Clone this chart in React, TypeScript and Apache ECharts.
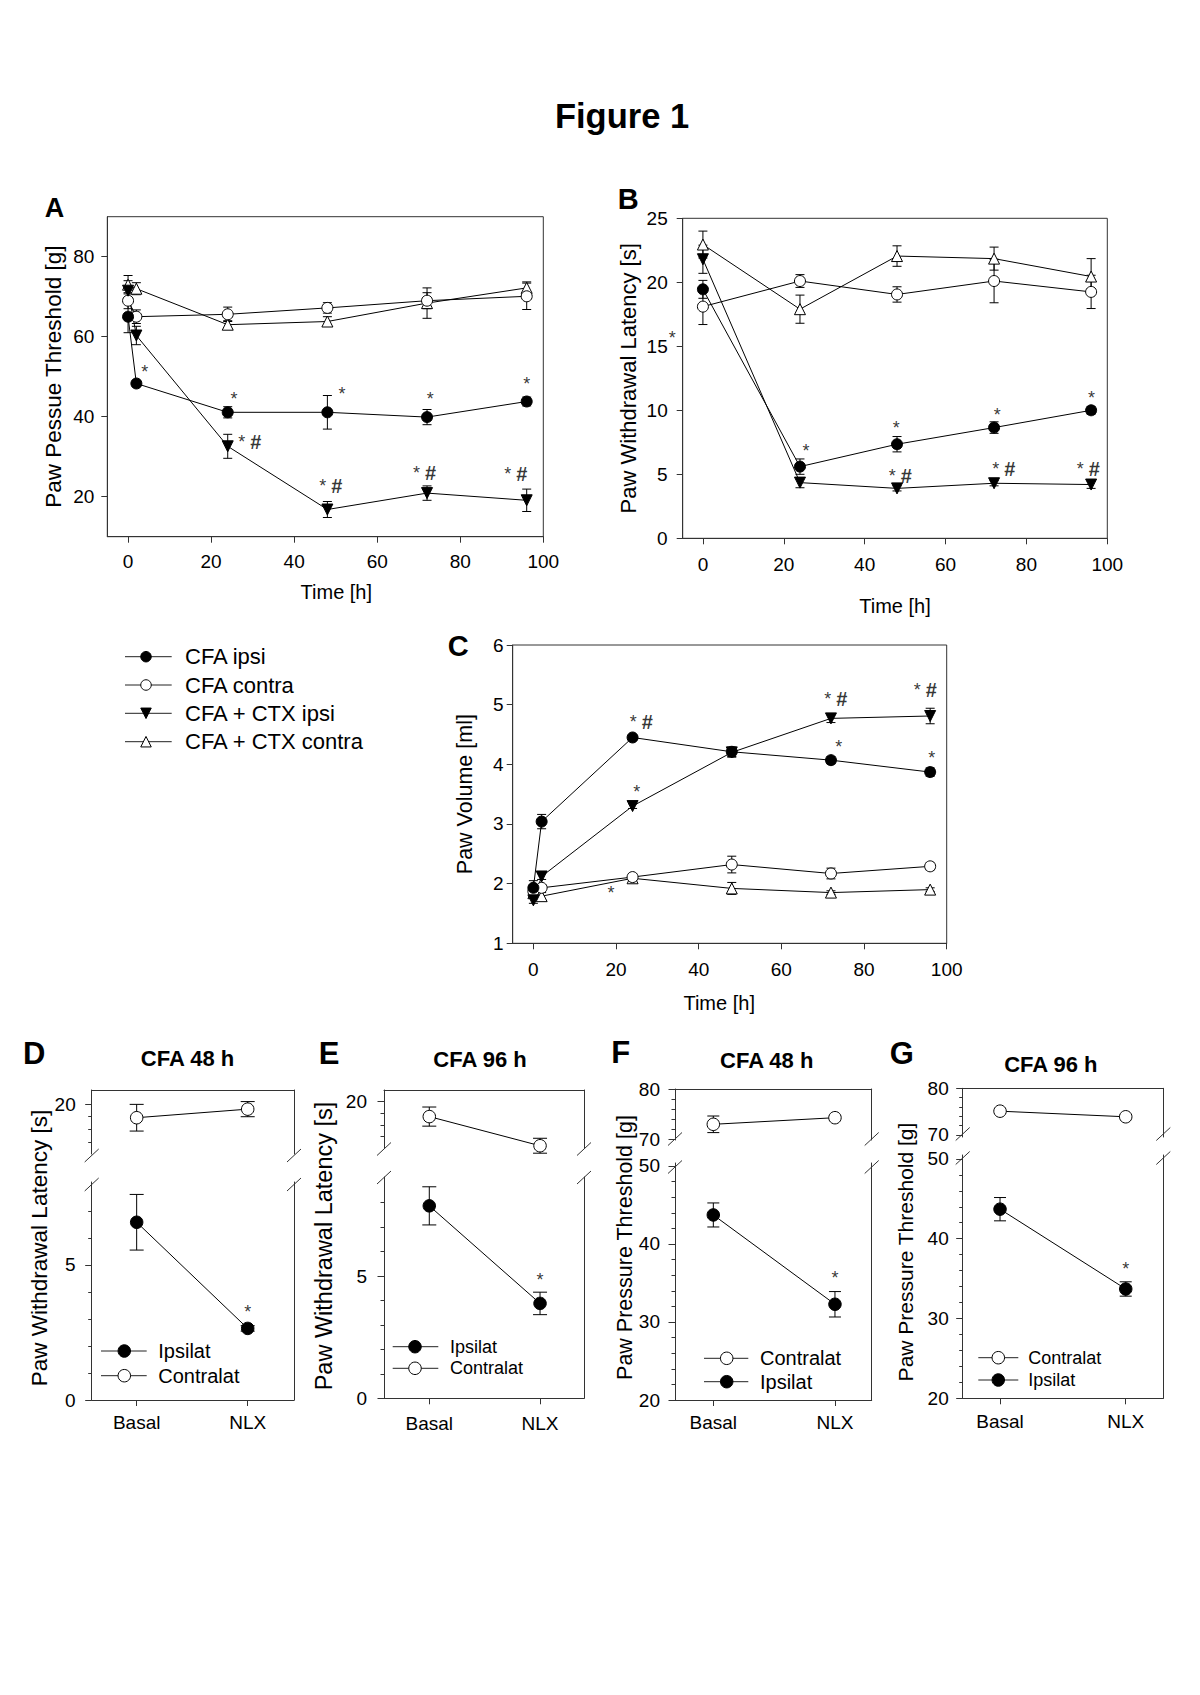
import React, { useEffect, useRef } from "react";
import * as echarts from "echarts";

const FONT = '"Liberation Sans", Arial, Helvetica, sans-serif';
const INK = "#000000";
const FRAME = "#333333";

// ---------- Panel A: paw pressure threshold [g] vs time ----------
const timeA = [0, 2, 24, 48, 72, 96];
const aCfaIpsi = [65.0, 48.3, 41.1, 41.1, 39.9, 43.8];
const aCfaIpsiErr = [4.0, 0.8, 1.4, 4.2, 1.9, 1.1];
const aCfaContra = [69.0, 65.0, 65.6, 67.2, 69.0, 70.1];
const aCfaContraErr = [2.0, 1.7, 1.8, 1.3, 2.0, 3.3];
const aCtxIpsi = [71.5, 60.3, 32.6, 16.8, 20.9, 19.1];
const aCtxIpsiErr = [2.5, 2.3, 3.0, 2.0, 1.8, 2.8];
const aCtxContra = [73.0, 72.0, 63.0, 63.8, 68.4, 72.2];
const aCtxContraErr = [2.3, 1.5, 1.0, 1.2, 3.8, 1.5];
const annotA: [number, number, string][] = [
  [4.0, 52.2, "*"], [25.5, 45.5, "*"], [51.5, 46.6, "*"], [72.8, 45.5, "*"], [96.0, 49.3, "*"],
  [29.3, 34.0, "*#"], [48.8, 23.0, "*#"], [71.4, 26.3, "*#"], [93.4, 25.9, "*#"],
];

// ---------- Panel B: paw withdrawal latency [s] vs time ----------
const timeB = [0, 24, 48, 72, 96];
const bCfaIpsi = [19.45, 5.6, 7.35, 8.65, 10.0];
const bCfaIpsiErr = [0.7, 0.6, 0.6, 0.45, 0.3];
const bCfaContra = [18.1, 20.1, 19.05, 20.1, 19.25];
const bCfaContraErr = [1.4, 0.5, 0.6, 1.7, 1.3];
const bCtxIpsi = [21.8, 4.35, 3.9, 4.3, 4.2];
const bCtxIpsiErr = [1.1, 0.4, 0.2, 0.2, 0.3];
const bCtxContra = [22.95, 17.9, 22.05, 21.85, 20.45];
const bCtxContraErr = [1.05, 1.1, 0.8, 0.9, 1.4];
const annotB: [number, number, string][] = [
  [-7.6, 16.0, "*"], [25.5, 7.16, "*"], [47.8, 8.91, "*"], [72.8, 9.95, "*"], [96.1, 11.25, "*"],
  [48.8, 4.95, "*#"], [74.4, 5.47, "*#"], [95.3, 5.47, "*#"],
];

// ---------- Panel C: paw volume [ml] vs time ----------
const timeC = [0, 2, 24, 48, 72, 96];
const cCfaIpsi = [1.93, 3.04, 4.45, 4.21, 4.07, 3.87];
const cCfaIpsiErr = [0.12, 0.12, 0.03, 0.08, 0.06, 0.07];
const cCfaContra = [1.87, 1.93, 2.11, 2.32, 2.17, 2.29];
const cCfaContraErr = [0.05, 0.05, 0.06, 0.14, 0.09, 0.06];
const cCtxIpsi = [1.72, 2.12, 3.3, 4.2, 4.77, 4.81];
const cCtxIpsiErr = [0.05, 0.05, 0.04, 0.08, 0.07, 0.13];
const cCtxContra = [1.84, 1.79, 2.09, 1.92, 1.85, 1.9];
const cCtxContraErr = [0.05, 0.06, 0.05, 0.1, 0.03, 0.03];
const annotC: [number, number, string][] = [
  [26.1, 4.72, "*#"], [25.0, 3.61, "*"], [18.8, 1.905, "*"], [73.2, 5.11, "*#"],
  [73.9, 4.35, "*"], [94.8, 5.26, "*#"], [96.4, 4.17, "*"],
];

const timeTicks = [0, 20, 40, 60, 80, 100];
const ticksA = [20, 40, 60, 80];
const ticksB = [0, 5, 10, 15, 20, 25];
const ticksC = [1, 2, 3, 4, 5, 6];
const groupNames = ["CFA ipsi", "CFA contra", "CFA + CTX ipsi", "CFA + CTX contra"];
const groupMarks = ["fillCircle", "openCircle", "fillDown", "openUp"];

// ---------- Panels D–G: Basal vs NLX ----------
const conditions = ["Basal", "NLX"];
const condPos = [0, 1];
const dContra = [19.46, 19.8];
const dContraErr = [0.53, 0.3];
const dIpsi = [6.58, 2.65];
const dIpsiErr = [1.03, 0.1];
const dStar = 3.42;
const eContra = [19.36, 18.11];
const eContraErr = [0.41, 0.32];
const eIpsi = [7.87, 3.88];
const eIpsiErr = [0.78, 0.46];
const eStar = 5.01;
const fContra = [72.94, 74.26];
const fContraErr = [1.66, 0.5];
const fIpsi = [43.72, 32.27];
const fIpsiErr = [1.54, 1.63];
const fStar = 36.1;
const gContra = [75.1, 73.9];
const gContraErr = [0.4, 0.4];
const gIpsi = [43.7, 33.7];
const gIpsiErr = [1.46, 0.9];
const gStar = 36.7;
const latUpperMajor = [20];
const latUpperMinor = [18.5, 19, 19.5];
const latLowerMajor = [0, 5];
const latLowerMinorD = [1, 2, 3, 4, 6, 7];
const latLowerMinorE = [1, 2, 3, 4, 6, 7, 8];
const ppUpperMajor = [70, 80];
const ppUpperMinor = [72, 74, 76, 78];
const ppLowerMajor = [20, 30, 40, 50];
const ppLowerMinor = [22, 24, 26, 28, 32, 34, 36, 38, 42, 44, 46, 48];

function buildOption() {
  const grid: any[] = [];
  const xAxis: any[] = [];
  const yAxis: any[] = [];
  const series: any[] = [];
  const graphic: any[] = [];
  const ls = { color: FRAME, width: 1 };

  const addGrid = (left: number, top: number, width: number, height: number, box: boolean) => {
    grid.push({
      left, top, width, height, containLabel: false, outerBoundsMode: "none",
      show: box, borderColor: FRAME, borderWidth: 1, backgroundColor: "transparent",
    });
    return grid.length - 1;
  };

  const valueAxis = (o: any) => ({
    type: "value", gridIndex: o.grid, position: o.position, min: o.min, max: o.max,
    axisLine: { show: o.line !== false, onZero: false, lineStyle: ls },
    axisTick: { show: !!o.ticks, customValues: o.ticks || [], length: o.tickLen ?? 6, inside: false, lineStyle: ls },
    axisLabel: o.labels
      ? { show: true, customValues: o.labels, margin: o.margin, fontSize: o.fontSize ?? 19, color: INK, fontFamily: FONT, formatter: o.formatter }
      : { show: false },
    splitLine: { show: false }, minorTick: { show: false }, minorSplitLine: { show: false },
    name: o.name, nameLocation: "middle", nameGap: o.nameGap, nameTextStyle: o.nameStyle,
    silent: true, z: 4,
  });

  const MARK: any = {
    fillCircle: { symbol: "circle", rotate: 0, fill: INK },
    openCircle: { symbol: "circle", rotate: 0, fill: "#ffffff" },
    fillDown: { symbol: "triangle", rotate: 180, fill: INK },
    openUp: { symbol: "triangle", rotate: 0, fill: "#ffffff" },
  };

  const dataLine = (name: string, xi: number, yi: number, xs: number[], ys: number[], kind: string, size: number) => {
    const m = MARK[kind];
    series.push({
      type: "line", name, xAxisIndex: xi, yAxisIndex: yi,
      data: xs.map((x, i) => [x, ys[i]]),
      symbol: m.symbol, symbolRotate: m.rotate, symbolSize: size, showSymbol: true,
      lineStyle: { color: INK, width: 1 },
      itemStyle: { color: m.fill, borderColor: INK, borderWidth: 1, opacity: 1 },
      z: 3, silent: true, clip: false,
    });
  };

  const errBars = (xi: number, yi: number, xs: number[], ys: number[], es: number[], cap: number) => {
    series.push({
      type: "custom", xAxisIndex: xi, yAxisIndex: yi, silent: true, z: 2,
      data: xs.map((x, i) => [x, ys[i], es[i]]),
      encode: { x: 0, y: 1 },
      renderItem: (_p: any, api: any) => {
        const x = api.value(0), y = api.value(1), e = api.value(2);
        const t = api.coord([x, y + e]);
        const b = api.coord([x, y - e]);
        const st = { stroke: INK, lineWidth: 1, fill: null };
        return {
          type: "group",
          children: [
            { type: "line", shape: { x1: t[0], y1: t[1], x2: b[0], y2: b[1] }, style: st },
            { type: "line", shape: { x1: t[0] - cap, y1: t[1], x2: t[0] + cap, y2: t[1] }, style: st },
            { type: "line", shape: { x1: b[0] - cap, y1: b[1], x2: b[0] + cap, y2: b[1] }, style: st },
          ],
        };
      },
    });
  };

  const starLabel = { show: true, position: "inside", formatter: "*", fontSize: 18, color: INK, fontFamily: FONT, offset: [0, 4] };
  const starHashLabel = {
    show: true, position: "inside", formatter: "{s|* }{h|#}", offset: [0, 1],
    rich: {
      s: { fontSize: 18, fontFamily: FONT, color: INK },
      h: { fontSize: 20, fontFamily: FONT, color: INK, fontWeight: "bold" },
    },
  };
  const annot = (xi: number, yi: number, items: [number, number, string][]) => {
    series.push({
      type: "scatter", xAxisIndex: xi, yAxisIndex: yi, clip: false, silent: true, z: 5,
      symbolSize: 1, itemStyle: { color: "rgba(0,0,0,0)" },
      data: items.map(([x, y, t]) => ({ value: [x, y], label: t === "*" ? starLabel : starHashLabel })),
    });
  };

  const text = (x: number, y: number, s: string, size: number, extra: any = {}) => {
    graphic.push({
      type: "text", x, y, silent: true, z: 20, rotation: extra.rotation || 0,
      style: {
        text: s, fontSize: size, fontFamily: FONT, fill: INK,
        align: extra.align || "center", verticalAlign: "middle", fontWeight: extra.bold ? "bold" : "normal",
      },
    });
  };

  const marker = (kind: string, cx: number, cy: number, s: number) => {
    const st = { fill: kind.startsWith("fill") ? INK : "#ffffff", stroke: INK, lineWidth: 1 };
    if (kind.endsWith("Circle")) {
      graphic.push({ type: "circle", shape: { cx, cy, r: s / 2 }, style: st, silent: true, z: 21 });
      return;
    }
    const h = s / 2;
    const pts = kind === "fillDown"
      ? [[cx - h, cy - h], [cx + h, cy - h], [cx, cy + h]]
      : [[cx, cy - h], [cx + h, cy + h], [cx - h, cy + h]];
    graphic.push({ type: "polygon", shape: { points: pts }, style: st, silent: true, z: 21 });
  };

  const legendRow = (x1: number, x2: number, mx: number, tx: number, y: number, kind: string, label: string, ms: number, fs: number) => {
    graphic.push({ type: "line", shape: { x1, y1: y, x2, y2: y }, style: { stroke: "#222", lineWidth: 1 }, silent: true, z: 20 });
    marker(kind, mx, y, ms);
    text(tx, y, label, fs, { align: "left" });
  };

  const slash = (x: number, y: number) => {
    graphic.push({ type: "line", shape: { x1: x - 7, y1: y + 6.5, x2: x + 7, y2: y - 6.5 }, style: { stroke: FRAME, lineWidth: 1 }, silent: true, z: 20 });
  };

  // ---------- main time-course panels ----------
  const mainPanel = (c: any) => {
    const g = addGrid(c.left, c.top, c.width, c.height, true);
    xAxis.push(valueAxis({
      grid: g, position: "bottom", min: -5, max: 100, ticks: timeTicks, labels: timeTicks, margin: c.xMargin,
      name: "Time [h]", nameGap: c.xNameGap,
      nameStyle: { fontSize: 20, color: INK, fontFamily: FONT, padding: c.xNamePad },
    }));
    yAxis.push(valueAxis({
      grid: g, position: "left", min: c.yMin, max: c.yMax, ticks: c.yTicks, labels: c.yTicks, margin: c.yMargin,
      name: c.yName, nameGap: c.yNameGap, nameStyle: { fontSize: c.yNameSize, color: INK, fontFamily: FONT },
    }));
    const xi = xAxis.length - 1, yi = yAxis.length - 1;
    const order = [3, 1, 2, 0];
    order.forEach((k) => errBars(xi, yi, c.time, c.vals[k], c.errs[k], 4.5));
    order.forEach((k) => dataLine(groupNames[k], xi, yi, c.time, c.vals[k], groupMarks[k], 11));
    annot(xi, yi, c.annot);
  };

  mainPanel({
    left: 107.3, top: 216.7, width: 436, height: 320, yMin: 10, yMax: 90, yTicks: ticksA,
    yMargin: 13, xMargin: 15, xNameGap: 45, xNamePad: [0, 0, 0, 22],
    yName: "Paw Pessue Threshold [g]", yNameGap: 42.7, yNameSize: 22.5,
    time: timeA, vals: [aCfaIpsi, aCfaContra, aCtxIpsi, aCtxContra],
    errs: [aCfaIpsiErr, aCfaContraErr, aCtxIpsiErr, aCtxContraErr], annot: annotA,
  });
  mainPanel({
    left: 682.7, top: 218.3, width: 424.6, height: 320, yMin: 0, yMax: 25, yTicks: ticksB,
    yMargin: 15, xMargin: 17, xNameGap: 58, xNamePad: [0, 0, 0, 0],
    yName: "Paw Withdrawal Latency [s]", yNameGap: 43.7, yNameSize: 22,
    time: timeB, vals: [bCfaIpsi, bCfaContra, bCtxIpsi, bCtxContra],
    errs: [bCfaIpsiErr, bCfaContraErr, bCtxIpsiErr, bCtxContraErr], annot: annotB,
  });
  mainPanel({
    left: 512.7, top: 645, width: 434, height: 298.3, yMin: 1, yMax: 6, yTicks: ticksC,
    yMargin: 9, xMargin: 17, xNameGap: 50, xNamePad: [0, 21, 0, 0],
    yName: "Paw Volume [ml]", yNameGap: 37, yNameSize: 21.5,
    time: timeC, vals: [cCfaIpsi, cCfaContra, cCtxIpsi, cCtxContra],
    errs: [cCfaIpsiErr, cCfaContraErr, cCtxIpsiErr, cCtxContraErr], annot: annotC,
  });

  // legend for A–C
  const legY = [656.7, 685, 713.3, 741.7];
  groupNames.forEach((n, i) => legendRow(125, 171.7, 146, 185, legY[i], groupMarks[i], n, 10.5, 22));

  // ---------- Basal / NLX panels with broken axis ----------
  const segment = (p: any, top: number, bottom: number, range: number[], major: number[], minor: number[], upper: boolean) => {
    const g = addGrid(p.left, top, p.right - p.left, bottom - top, false);
    xAxis.push(valueAxis({
      grid: g, position: upper ? "top" : "bottom", min: p.xMin, max: p.xMax,
      ticks: upper ? null : condPos, labels: upper ? null : condPos, margin: p.xMargin, fontSize: 19,
      formatter: (v: number) => conditions[Math.round(v)],
    }));
    const xi = xAxis.length - 1;
    yAxis.push(valueAxis({ grid: g, position: "left", min: range[0], max: range[1], ticks: major, labels: major, margin: p.yMargin, fontSize: 19, tickLen: 6.5 }));
    const yi = yAxis.length - 1;
    yAxis.push(valueAxis({ grid: g, position: "left", min: range[0], max: range[1], line: false, ticks: minor, tickLen: 3.5 }));
    yAxis.push(valueAxis({ grid: g, position: "right", min: range[0], max: range[1] }));
    return [xi, yi];
  };

  const smallPanel = (p: any) => {
    const [xu, yu] = segment(p, p.top, p.upperBottom, p.upper, p.upperMajor, p.upperMinor, true);
    const [xl, yl] = segment(p, p.lowerTop, p.bottom, p.lower, p.lowerMajor, p.lowerMinor, false);
    errBars(xu, yu, condPos, p.contra, p.contraErr, p.cap);
    dataLine("Contralat", xu, yu, condPos, p.contra, "openCircle", 12.5);
    errBars(xl, yl, condPos, p.ipsi, p.ipsiErr, p.cap);
    dataLine("Ipsilat", xl, yl, condPos, p.ipsi, "fillCircle", 12.5);
    annot(xl, yl, [[1, p.star, "*"]]);
    slash(p.left, p.slash[0]);
    slash(p.left, p.slash[1]);
    slash(p.right, p.slash[0]);
    slash(p.right, p.slash[1]);
    text(p.letter[0], p.letter[1], p.letter[2], 31, { bold: true });
    text(p.title[0], p.title[1], p.title[2], 22, { bold: true });
    text(p.ytitle[0], p.ytitle[1], p.ytitle[2], p.ytitle[3], { rotation: Math.PI / 2 });
    p.legend.forEach((r: any) => legendRow(p.leg[0], p.leg[1], p.leg[2], p.leg[3], r[0], r[1], r[2], 12.5, p.leg[4]));
  };

  smallPanel({
    left: 91.7, right: 294, top: 1090, upperBottom: 1154, lowerTop: 1182, bottom: 1400,
    xMin: -0.405, xMax: 1.417, upper: [18.02, 20.56], lower: [0, 8.07],
    upperMajor: latUpperMajor, upperMinor: latUpperMinor, lowerMajor: latLowerMajor, lowerMinor: latLowerMinorD,
    yMargin: 16, xMargin: 12.5, cap: 7,
    contra: dContra, contraErr: dContraErr, ipsi: dIpsi, ipsiErr: dIpsiErr, star: dStar,
    slash: [1155.5, 1184.5], letter: [34.2, 1053, "D"], title: [187.5, 1058, "CFA 48 h"],
    ytitle: [39.3, 1248, "Paw Withdrawal Latency [s]", 22.5],
    leg: [101, 146.7, 124.3, 158.3, 20],
    legend: [[1351, "fillCircle", "Ipsilat"], [1375.7, "openCircle", "Contralat"]],
  });
  smallPanel({
    left: 384, right: 584, top: 1090, upperBottom: 1148.3, lowerTop: 1177, bottom: 1398.3,
    xMin: -0.409, xMax: 1.397, upper: [18.0, 20.5], lower: [0, 9.05],
    upperMajor: latUpperMajor, upperMinor: latUpperMinor, lowerMajor: latLowerMajor, lowerMinor: latLowerMinorE,
    yMargin: 17, xMargin: 15.5, cap: 7,
    contra: eContra, contraErr: eContraErr, ipsi: eIpsi, ipsiErr: eIpsiErr, star: eStar,
    slash: [1149, 1177.5], letter: [329, 1053.5, "E"], title: [480, 1059, "CFA 96 h"],
    ytitle: [324, 1246, "Paw Withdrawal Latency [s]", 23.5],
    leg: [392.7, 438.3, 415, 450, 18],
    legend: [[1346.7, "fillCircle", "Ipsilat"], [1368.3, "openCircle", "Contralat"]],
  });
  smallPanel({
    left: 675, right: 871.7, top: 1089, upperBottom: 1140, lowerTop: 1163, bottom: 1400,
    xMin: -0.315, xMax: 1.302, upper: [69.8, 80], lower: [20, 50.38],
    upperMajor: ppUpperMajor, upperMinor: ppUpperMinor, lowerMajor: ppLowerMajor, lowerMinor: ppLowerMinor,
    yMargin: 15, xMargin: 12.5, cap: 6,
    contra: fContra, contraErr: fContraErr, ipsi: fIpsi, ipsiErr: fIpsiErr, star: fStar,
    slash: [1139, 1167], letter: [620.8, 1052.5, "F"], title: [766.7, 1060, "CFA 48 h"],
    ytitle: [625, 1247.5, "Paw Pressure Threshold [g]", 21.5],
    leg: [704, 748.3, 726.7, 760, 20],
    legend: [[1358.3, "openCircle", "Contralat"], [1381.7, "fillCircle", "Ipsilat"]],
  });
  smallPanel({
    left: 962.7, right: 1163.3, top: 1088.3, upperBottom: 1137, lowerTop: 1155, bottom: 1398.3,
    xMin: -0.297, xMax: 1.299, upper: [69.57, 80], lower: [20, 50.49],
    upperMajor: ppUpperMajor, upperMinor: ppUpperMinor, lowerMajor: ppLowerMajor, lowerMinor: ppLowerMinor,
    yMargin: 14, xMargin: 14, cap: 6,
    contra: gContra, contraErr: gContraErr, ipsi: gIpsi, ipsiErr: gIpsiErr, star: gStar,
    slash: [1134, 1158], letter: [901.7, 1053.3, "G"], title: [1050.8, 1064, "CFA 96 h"],
    ytitle: [905, 1252, "Paw Pressure Threshold [g]", 21],
    leg: [978.3, 1018.3, 998.3, 1028.3, 18],
    legend: [[1357.7, "openCircle", "Contralat"], [1380, "fillCircle", "Ipsilat"]],
  });

  // ---------- figure & panel captions ----------
  text(622, 115.5, "Figure 1", 34.5, { bold: true });
  text(54.5, 208, "A", 27, { bold: true });
  text(628.3, 198.7, "B", 29, { bold: true });
  text(458.3, 645.5, "C", 29, { bold: true });

  return {
    animation: false,
    backgroundColor: "#ffffff",
    textStyle: { fontFamily: FONT, color: INK },
    tooltip: { show: false },
    grid, xAxis, yAxis, series, graphic,
  };
}

export default function App() {
  const ref = useRef<HTMLDivElement>(null);
  useEffect(() => {
    if (!ref.current) return;
    const chart = echarts.init(ref.current, null, { renderer: "svg", width: 1200, height: 1695 });
    chart.setOption(buildOption() as any);
    return () => chart.dispose();
  }, []);
  return (
    <div
      ref={ref}
      style={{ position: "absolute", left: 0, top: 0, width: 1200, height: 1695, background: "#ffffff" }}
    />
  );
}
